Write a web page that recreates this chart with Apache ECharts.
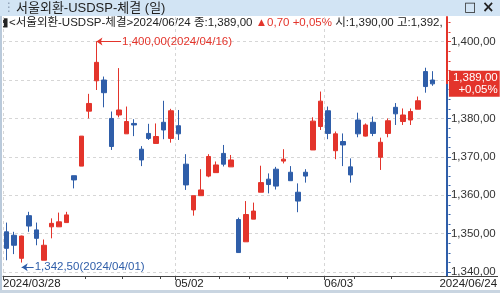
<!DOCTYPE html>
<html>
<head>
<meta charset="utf-8">
<script src="https://cdn.jsdelivr.net/npm/echarts@6/dist/echarts.min.js"></script>
<style>
  html, body { margin: 0; padding: 0; background: #fff; }
  #chart { width: 500px; height: 293px; }
</style>
</head>
<body>
<div id="chart"></div>
<script>
const dates = [
  '2024/03/28', '2024/03/29', '2024/04/01', '2024/04/02', '2024/04/03', '2024/04/04', '2024/04/05', '2024/04/08',
  '2024/04/09', '2024/04/11', '2024/04/12', '2024/04/15', '2024/04/16', '2024/04/17', '2024/04/18', '2024/04/19',
  '2024/04/22', '2024/04/23', '2024/04/24', '2024/04/25', '2024/04/26', '2024/04/29', '2024/04/30', '2024/05/02',
  '2024/05/03', '2024/05/07', '2024/05/08', '2024/05/09', '2024/05/10', '2024/05/13', '2024/05/14', '2024/05/16',
  '2024/05/17', '2024/05/20', '2024/05/21', '2024/05/22', '2024/05/23', '2024/05/24', '2024/05/27', '2024/05/28',
  '2024/05/29', '2024/05/30', '2024/05/31', '2024/06/03', '2024/06/04', '2024/06/05', '2024/06/07', '2024/06/10',
  '2024/06/11', '2024/06/12', '2024/06/13', '2024/06/14', '2024/06/17', '2024/06/18', '2024/06/19', '2024/06/20',
  '2024/06/21', '2024/06/24'
];
const opens = [
  1350.5, 1349.6, 1343.6, 1354.7, 1351.0, 1343.1, 1351.8, 1351.8, 1352.9, 1365.1, 1367.6, 1381.9, 1389.8, 1390.0, 1380.0,
  1380.9, 1376.0, 1378.7, 1372.0, 1376.1, 1373.5, 1379.0, 1374.8, 1378.1, 1368.1, 1356.2, 1359.9, 1365.0, 1365.9, 1370.9,
  1367.4, 1353.7, 1347.9, 1353.8, 1360.8, 1364.2, 1366.8, 1368.9, 1366.0, 1360.8, 1366.0, 1371.8, 1377.9, 1382.0, 1371.6,
  1374.0, 1367.4, 1379.6, 1375.4, 1379.0, 1369.9, 1376.1, 1382.9, 1379.2, 1379.6, 1382.4, 1392.2, 1390.0
];
const closes = [
  1346.2, 1347.0, 1349.4, 1352.0, 1348.8, 1347.0, 1352.7, 1353.1, 1354.9, 1364.0, 1375.4, 1383.9, 1394.6, 1386.7, 1372.7,
  1382.2, 1379.2, 1378.3, 1369.2, 1374.8, 1375.3, 1377.0, 1382.0, 1376.0, 1362.7, 1359.9, 1361.4, 1370.1, 1367.9, 1368.1,
  1369.2, 1345.1, 1355.0, 1355.9, 1363.3, 1362.8, 1362.4, 1369.4, 1363.8, 1358.5, 1365.0, 1379.3, 1384.5, 1376.1, 1376.0,
  1373.1, 1365.3, 1376.0, 1378.3, 1376.1, 1373.8, 1379.4, 1381.2, 1380.9, 1381.8, 1384.6, 1388.3, 1389.0
];
const lows = [
  1343.1, 1344.7, 1342.5, 1350.5, 1347.0, 1343.1, 1348.8, 1351.8, 1352.9, 1361.8, 1367.6, 1380.0, 1387.4, 1382.9, 1371.8,
  1380.3, 1376.0, 1375.4, 1367.6, 1374.4, 1373.5, 1374.6, 1373.7, 1374.4, 1361.4, 1354.7, 1359.9, 1364.7, 1365.9, 1367.5,
  1367.4, 1345.1, 1347.9, 1353.8, 1360.8, 1360.5, 1361.5, 1368.3, 1363.8, 1355.6, 1363.3, 1371.8, 1377.0, 1374.6, 1369.4,
  1367.6, 1363.3, 1375.1, 1375.3, 1375.4, 1366.6, 1375.1, 1378.3, 1378.3, 1378.3, 1382.4, 1386.7, 1388.5
];
const highs = [
  1352.9, 1350.5, 1349.5, 1355.7, 1352.9, 1348.5, 1354.0, 1355.5, 1355.7, 1365.1, 1375.4, 1386.4, 1400.0, 1390.9, 1381.8,
  1393.1, 1383.1, 1379.8, 1372.8, 1378.6, 1378.7, 1384.6, 1382.5, 1382.2, 1370.7, 1359.9, 1366.8, 1370.7, 1368.8, 1373.1,
  1370.5, 1354.2, 1358.5, 1358.1, 1367.7, 1365.7, 1367.4, 1372.0, 1367.6, 1363.1, 1366.8, 1380.3, 1387.0, 1383.1, 1376.6,
  1376.1, 1369.6, 1381.5, 1378.7, 1380.5, 1375.0, 1380.0, 1384.0, 1382.6, 1382.6, 1385.7, 1393.2, 1392.3
];
const yTicks = [1340, 1350, 1360, 1370, 1380, 1390, 1400];
const monthTicks = [0, 23, 43];   // index where a labelled month starts
const weekTicks = [11, 16, 21, 29, 33, 38, 47, 52];

const RED = '#e3342b';
const BLUE = '#2f5ea9';
const FONT = "'Liberation Sans', 'Noto Sans CJK KR', sans-serif";
const FS = 11.5;
const Y_MIN = 1339.0, Y_MAX = 1406.4;
const X_MIN = -0.5, X_MAX = 58.9;
const GRID = { left: 1.5, right: 53, top: 17, bottom: 17 };
const gridW = 500 - GRID.left - GRID.right;
const gridH = 293 - GRID.top - GRID.bottom;

const fmt = (v) => {
  const [a, b] = v.toFixed(2).split('.');
  return a.replace(/\B(?=(\d{3})+$)/g, ',') + ',' + b;
};

const last = dates.length - 1;
const lastClose = closes[last];
const diff = lastClose - closes[last - 1];
const pct = (diff / closes[last - 1]) * 100;
const diffText = '▲' + diff.toFixed(2).replace('.', ',');
const pctText = '+' + pct.toFixed(2).replace('.', ',') + '%';

const hiIdx = highs.indexOf(Math.max(...highs));
const loIdx = lows.indexOf(Math.min(...lows));

const minorTicks = [];
for (let v = 1340; v <= 1405; v += 2.5) minorTicks.push(v);

const candles = dates.map((d, i) => [i, opens[i], closes[i], lows[i], highs[i]]);

// axis line: red above the last price, blue below
const split = (Y_MAX - lastClose) / (Y_MAX - Y_MIN);
const axisColor = {
  type: 'linear', x: 0, y: GRID.top, x2: 0, y2: GRID.top + gridH, global: true,
  colorStops: [
    { offset: 0, color: RED }, { offset: split, color: RED },
    { offset: split, color: BLUE }, { offset: 1, color: BLUE },
  ],
};

const chart = echarts.init(document.getElementById('chart'));

chart.setOption({
  animation: false,
  backgroundColor: '#fff',
  grid: GRID,
  xAxis: [
    {
      type: 'value', min: X_MIN, max: X_MAX, position: 'bottom',
      axisLine: { show: true, onZero: false, lineStyle: { color: '#444', width: 1 } },
      axisTick: { show: true, length: 4, customValues: monthTicks.map((i) => i - 0.5), lineStyle: { color: '#444' } },
      axisLabel: {
        customValues: [...monthTicks.map((i) => i - 0.5), last + 0.9],
        align: 'left', margin: 2, color: '#222', fontSize: FS, fontFamily: FONT,
        formatter: (v) => {
          if (v < 0) return dates[0];
          if (v > last) return dates[last];
          return dates[Math.round(v + 0.5)].slice(5);
        },
      },
      splitLine: { show: true, lineStyle: { color: '#d6d6d6', type: [3, 3] } },
    },
    {
      // week ticks, moved onto the bottom edge
      type: 'value', min: X_MIN, max: X_MAX, position: 'top', offset: -gridH,
      axisLine: { show: false, onZero: false },
      axisTick: { show: true, inside: true, length: 3, customValues: weekTicks.map((i) => i - 0.5), lineStyle: { color: '#444' } },
      axisLabel: { show: false },
      splitLine: { show: false },
    },
  ],
  yAxis: [
    {
      type: 'value', min: Y_MIN, max: Y_MAX, position: 'right',
      axisLine: { show: true, onZero: false, lineStyle: { color: axisColor, width: 2 } },
      axisTick: { show: true, length: 4, customValues: yTicks, lineStyle: { color: axisColor } },
      axisLabel: {
        customValues: yTicks, margin: 4, color: '#333', fontSize: FS, fontFamily: FONT,
        formatter: (v) => fmt(v),
      },
      splitLine: { show: true, lineStyle: { color: '#d6d6d6', type: [3, 3] } },
    },
    {
      // minor ticks, moved onto the right edge
      type: 'value', min: Y_MIN, max: Y_MAX, position: 'left', offset: -gridW,
      axisLine: { show: false, onZero: false },
      axisTick: { show: true, inside: true, length: 2, customValues: minorTicks, lineStyle: { color: axisColor } },
      axisLabel: { show: false },
      splitLine: { show: false },
    },
  ],
  series: [
    {
      type: 'candlestick',
      xAxisIndex: 0, yAxisIndex: 0,
      data: candles,
      barWidth: 5,
      itemStyle: { color: RED, color0: BLUE, borderColor: RED, borderColor0: BLUE, borderWidth: 1 },
      markLine: {
        silent: true,
        animation: false,
        data: [
          [
            { coord: [hiIdx, highs[hiIdx]], symbol: 'arrow', symbolSize: 6,
              lineStyle: { color: RED, width: 1, type: 'solid' } },
            { coord: [hiIdx + 3.3, highs[hiIdx]], symbol: 'none',
              label: { show: true, position: 'end', distance: 1, color: RED, fontSize: FS, fontFamily: FONT,
                formatter: fmt(highs[hiIdx]) + '(' + dates[hiIdx] + ')' } },
          ],
          [
            { coord: [loIdx, lows[loIdx] - 1.2], symbol: 'arrow', symbolSize: 6,
              lineStyle: { color: BLUE, width: 1, type: 'solid' } },
            { coord: [loIdx + 1.6, lows[loIdx] - 1.2], symbol: 'none',
              label: { show: true, position: 'end', distance: 1, color: BLUE, fontSize: FS, fontFamily: FONT,
                formatter: fmt(lows[loIdx]) + '(' + dates[loIdx] + ')' } },
          ],
          [
            { coord: [last, lastClose], symbol: 'none', lineStyle: { color: 'transparent' } },
            { coord: [X_MAX, lastClose], symbol: 'none',
              label: { show: true, position: 'end', distance: 2, color: '#fff', backgroundColor: RED,
                padding: [1, 2, 1, 4], fontSize: FS, lineHeight: 12, fontFamily: FONT,
                formatter: '{a|' + fmt(lastClose) + '}\n{a|' + pctText + '}',
                rich: { a: { align: 'right', color: '#fff', fontSize: FS, fontFamily: FONT, lineHeight: 12 } } } },
          ],
        ],
      },
    },
  ],
  graphic: [
    { type: 'rect', shape: { x: 0, y: 0, width: 500, height: 16 }, style: { fill: '#d2e4f4' }, silent: true },
    { type: 'rect', shape: { x: 0, y: 16, width: 2, height: 277 }, style: { fill: '#b9c9da' }, silent: true },
    { type: 'rect', shape: { x: 0, y: 290, width: 500, height: 3 }, style: { fill: '#c9d5e1' }, silent: true },
    { type: 'line', shape: { x1: 447, y1: 276.5, x2: 498, y2: 276.5 }, style: { stroke: '#444', lineWidth: 1 }, silent: true },
    { type: 'text', x: 3, y: 8, style: { text: '⋮', fill: '#8a9bb0', font: '12px DejaVu Sans', verticalAlign: 'middle' } },
    { type: 'text', x: 16, y: 8, style: { text: '서울외환-USDSP-체결 (일)', fill: '#222', font: '13px ' + FONT, verticalAlign: 'middle' } },
    { type: 'text', x: 464, y: 8, style: { text: '□', fill: '#222', font: 'bold 13px DejaVu Sans', verticalAlign: 'middle' } },
    { type: 'text', x: 482, y: 8, style: { text: '×', fill: '#222', font: 'bold 15px DejaVu Sans', verticalAlign: 'middle' } },
    {
      type: 'text', x: 2, y: 23,
      style: {
        text: '{k|▮<서울외환-USDSP-체결>' + dates[last] + ' 종:' + fmt(lastClose) + ' }{r|' + diffText + ' ' + pctText + '}{k| 시:' + fmt(opens[last]) + ' 고:' + fmt(highs[last]) + '}',
        width: 443, overflow: 'truncate', ellipsis: '',
        verticalAlign: 'middle', font: '11.5px ' + FONT,
        rich: {
          k: { fill: '#222', font: '11.5px ' + FONT },
          r: { fill: RED, font: '11.5px ' + FONT },
        },
      },
    },
  ],
});
</script>
</body>
</html>
